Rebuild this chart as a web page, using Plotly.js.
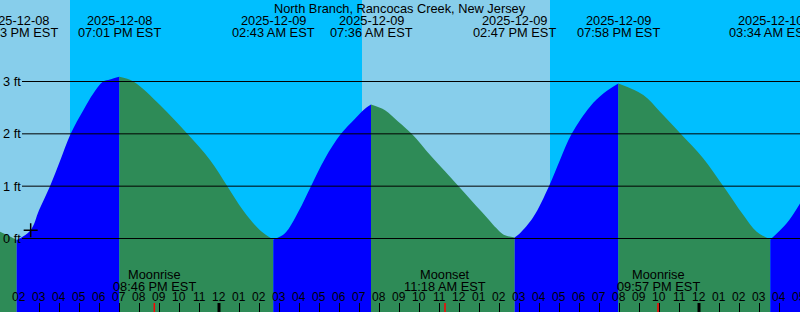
<!DOCTYPE html>
<html><head><meta charset="utf-8">
<script src="https://cdn.plot.ly/plotly-3.0.1.min.js"></script>
<style>html,body{margin:0;padding:0;background:#00BFFF;} #chart{width:800px;height:312px;}</style>
</head><body><div id="chart"></div>
<script>
const chartTitle = 'North Branch, Rancocas Creek, New Jersey';

// Tide curve (local time, feet)
const tideTimes = [
  '2025-12-08 13:03','2025-12-08 13:33','2025-12-08 13:53','2025-12-08 14:35','2025-12-08 15:00',
  '2025-12-08 15:33','2025-12-08 16:03','2025-12-08 16:35','2025-12-08 17:13','2025-12-08 17:43',
  '2025-12-08 18:12','2025-12-08 18:33','2025-12-08 19:01','2025-12-08 19:43','2025-12-08 21:03',
  '2025-12-08 22:25','2025-12-08 23:33','2025-12-09 00:25','2025-12-09 01:12','2025-12-09 02:03',
  '2025-12-09 02:43','2025-12-09 03:18','2025-12-09 03:58','2025-12-09 04:36','2025-12-09 05:18',
  '2025-12-09 06:06','2025-12-09 06:48','2025-12-09 07:18','2025-12-09 07:36','2025-12-09 08:18',
  '2025-12-09 08:58','2025-12-09 09:38','2025-12-09 10:38','2025-12-09 12:00','2025-12-09 13:08',
  '2025-12-09 13:58','2025-12-09 14:18','2025-12-09 14:47','2025-12-09 15:03','2025-12-09 15:43',
  '2025-12-09 16:30','2025-12-09 17:03','2025-12-09 17:38','2025-12-09 18:33','2025-12-09 19:13',
  '2025-12-09 19:58','2025-12-09 21:13','2025-12-09 22:03','2025-12-09 23:05','2025-12-10 00:13',
  '2025-12-10 01:13','2025-12-10 02:13','2025-12-10 02:53','2025-12-10 03:34','2025-12-10 04:23',
  '2025-12-10 05:03'
];
const tideFeet = [
  0.13, 0.04, -0.03, 0.16, 0.54,
  1.00, 1.48, 2.00, 2.45, 2.77,
  3.00, 3.04, 3.09, 3.00, 2.55,
  2.00, 1.50, 1.00, 0.54, 0.16,
  -0.02, 0.10, 0.51, 1.00, 1.53,
  2.00, 2.29, 2.48, 2.56, 2.45,
  2.23, 2.00, 1.56, 0.99, 0.51,
  0.16, 0.06, 0.02, 0.10, 0.41,
  1.00, 1.50, 2.00, 2.52, 2.77,
  2.96, 2.74, 2.42, 2.00, 1.53,
  1.00, 0.45, 0.13, -0.02, 0.29,
  0.67
];

// High / low tide events
const eventTimes = ['2025-12-08 13:53','2025-12-08 19:01','2025-12-09 02:43','2025-12-09 07:36','2025-12-09 14:47','2025-12-09 19:58','2025-12-10 03:34'];
const eventDates = ['2025-12-08','2025-12-08','2025-12-09','2025-12-09','2025-12-09','2025-12-09','2025-12-10'];
const eventClock = ['01:53 PM EST','07:01 PM EST','02:43 AM EST','07:36 AM EST','02:47 PM EST','07:58 PM EST','03:34 AM EST'];

// Moon events
const moonTimes = ['2025-12-08 20:46','2025-12-09 11:18','2025-12-09 21:57'];
const moonNames = ['Moonrise','Moonset','Moonrise'];
const moonClock = ['08:46 PM EST','11:18 AM EST','09:57 PM EST'];

// Daylight (sunrise -> sunset)
const sunrises = ['2025-12-08 07:08','2025-12-09 07:09'];
const sunsets  = ['2025-12-08 16:33','2025-12-09 16:33'];
const midnights = ['2025-12-09 00:00','2025-12-10 00:00'];

// Hour tick labels, one per hour from the first one
const hourStart = '2025-12-08 13:00';
const hourLabels = ['01','02','03','04','05','06','07','08','09','10','11','12',
  '01','02','03','04','05','06','07','08','09','10','11','12',
  '01','02','03','04','05','06','07','08','09','10','11','12',
  '01','02','03','04','05'];

const depthTicks = [0, 1, 2, 3];
const depthLabels = ['0 ft', '1 ft', '2 ft', '3 ft'];
const nowTime = ['2025-12-08 14:35'];
const nowFeet = [0.16];

const xStart = '2025-12-08 13:03', xEnd = '2025-12-10 05:03';
const yMin = -1.4045, yMax = 4.5576;

const FONT = 'Liberation Sans, Arial, sans-serif';
const FS = 12.8;
const H = 312;
const py = p => 1 - p / H;

const traces = [];
const breaks = [0];
eventTimes.forEach(t => { const i = tideTimes.indexOf(t); if (i > 0 && i < tideTimes.length - 1) breaks.push(i); });
breaks.push(tideTimes.length - 1);
for (let k = 0; k < breaks.length - 1; k++) {
  const i0 = breaks[k], i1 = breaks[k + 1];
  const xs = tideTimes.slice(i0, i1 + 1), ys = tideFeet.slice(i0, i1 + 1);
  const rising = ys[ys.length - 1] > ys[0];
  traces.push({x: [xs[0], xs[xs.length - 1]], y: [yMin - 1, yMin - 1], mode: 'lines',
    line: {width: 0}, hoverinfo: 'skip', showlegend: false});
  traces.push({x: xs, y: ys, mode: 'lines', line: {width: 0, shape: 'spline', smoothing: 1},
    fill: 'tonexty', fillcolor: rising ? '#0000FF' : '#2E8B57', hoverinfo: 'skip', showlegend: false});
}
traces.push({x: nowTime, y: nowFeet, mode: 'markers',
  marker: {symbol: 'cross-thin', size: 10, line: {color: '#000', width: 1.5}}, showlegend: false});

const shapes = [];
sunrises.forEach((s, i) => shapes.push({type: 'rect', xref: 'x', yref: 'paper', x0: s, x1: sunsets[i], y0: 0, y1: 1,
  fillcolor: '#87CEEB', line: {width: 0}, layer: 'below'}));
depthTicks.forEach(v => shapes.push({type: 'line', xref: 'paper', yref: 'y', x0: 22 / 800, x1: 1, y0: v, y1: v,
  line: {color: '#000', width: 1}, layer: 'above'}));
midnights.forEach(m => shapes.push({type: 'line', xref: 'x', yref: 'paper', x0: m, x1: m, y0: 0, y1: 9 / H,
  line: {color: '#000', width: 3}, layer: 'above'}));
moonTimes.forEach(m => shapes.push({type: 'line', xref: 'x', yref: 'paper', x0: m, x1: m, y0: 0, y1: 9 / H,
  line: {color: '#FF0000', width: 1.5}, layer: 'above'}));

const ann = [];
const tf = {family: FONT, size: FS, color: '#000'};
const hf = {family: FONT, size: 12, color: '#000'};
ann.push({text: chartTitle, xref: 'paper', yref: 'paper', x: 0.5, y: py(8.5), xanchor: 'center', yanchor: 'middle', showarrow: false, font: tf});
eventTimes.forEach((t, i) => {
  ann.push({text: eventDates[i], xref: 'x', yref: 'paper', x: t, y: py(20.5), xanchor: 'center', yanchor: 'middle', showarrow: false, font: tf});
  ann.push({text: eventClock[i], xref: 'x', yref: 'paper', x: t, y: py(32.5), xanchor: 'center', yanchor: 'middle', showarrow: false, font: tf});
});
moonTimes.forEach((t, i) => {
  ann.push({text: moonNames[i], xref: 'x', yref: 'paper', x: t, y: py(274.3), xanchor: 'center', yanchor: 'middle', showarrow: false, font: tf});
  ann.push({text: moonClock[i], xref: 'x', yref: 'paper', x: t, y: py(286.3), xanchor: 'center', yanchor: 'middle', showarrow: false, font: tf});
});
const t0 = new Date(hourStart.replace(' ', 'T') + ':00Z').getTime();
hourLabels.forEach((lab, i) => {
  const d = new Date(t0 + i * 3600000).toISOString().slice(0, 16).replace('T', ' ');
  ann.push({text: lab, xref: 'x', yref: 'paper', x: d, y: py(297.2), xanchor: 'center', yanchor: 'middle', showarrow: false, font: hf});
});

const layout = {
  width: 800, height: 312,
  margin: {l: 0, r: 0, t: 0, b: 0, pad: 0},
  paper_bgcolor: '#00BFFF', plot_bgcolor: '#00BFFF',
  showlegend: false,
  xaxis: {type: 'date', range: [xStart, xEnd], dtick: 3600000, tick0: '2025-12-08 00:00',
    ticks: 'inside', ticklen: 9, tickwidth: 1, tickcolor: '#000', showticklabels: false,
    showgrid: false, zeroline: false, showline: false, fixedrange: true},
  yaxis: {range: [yMin, yMax], tickvals: depthTicks, ticktext: depthLabels,
    ticks: '', ticklabelposition: 'inside', showgrid: false, zeroline: false, showline: false,
    tickfont: tf, fixedrange: true},
  shapes: shapes, annotations: ann
};
Plotly.newPlot('chart', traces, layout, {staticPlot: true});
</script></body></html>
